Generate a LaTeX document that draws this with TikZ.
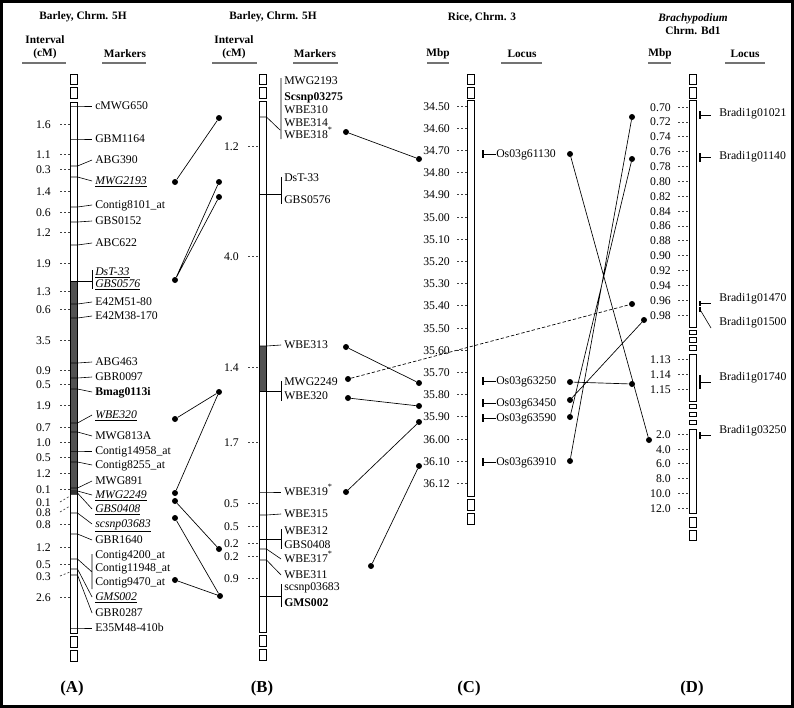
\documentclass[tikz,border=0pt]{standalone}
\usepackage{fontspec}
\setmainfont{Liberation Serif}
\usetikzlibrary{positioning}

\newcommand{\um}[1]{\underline{\textit{#1}}}
\newcommand{\supst}{\textsuperscript{*}}
% end boxes + main body of a chromosome: x, top, bottom
\newcommand{\chrom}[3]{%
  \draw[chr] (#1,74.5) rectangle ++(7,10);
  \draw[chr] (#1,87.5) rectangle ++(7,10.5);
  \draw[chr] (#1,#2) rectangle (#1+7,#3);
  \draw[chr] (#1,#3+3.5) rectangle ++(7,10.5);
  \draw[chr] (#1,#3+17.5) rectangle ++(7,10.5);}

\tikzset{
  chr/.style={draw, fill=white, line width=0.6pt},
  lead/.style={line width=0.45pt},
  tickd/.style={line width=0.5pt, dash pattern=on 1.5pt off 1.5pt, black!75},
  mk/.style={anchor=west, inner sep=0pt, font=\fontsize{8.8}{10}\selectfont, text height=6pt, text depth=1.5pt},
  iv/.style={anchor=east, inner sep=0pt, font=\fontsize{8.8}{10}\selectfont, text height=6pt, text depth=0pt},
  hd/.style={inner sep=0pt, font=\fontsize{8.5}{9.75}\bfseries\selectfont, align=center},
  uline/.style={line width=0.8pt, black!55},
  dot/.style={circle, fill, inner sep=0pt, minimum size=4.5pt},
  link/.style={line width=0.5pt},
  panel/.style={inner sep=0pt, font=\fontsize{12.5}{14}\bfseries\selectfont},
}

\begin{document}
\begin{tikzpicture}[x=0.75pt,y=-0.75pt]
\useasboundingbox (0,0) rectangle (794,708);
\draw[line width=2.4pt] (1.6,1.6) rectangle (792.4,706.4);

%% headings
\node[hd] (tA) at (83,17) {Barley, Chrm. 5H};
\node[hd] (tB) at (273,17) {Barley, Chrm. 5H};
\node[hd] (tC) at (482,17) {Rice, Chrm. 3};
\node[hd] (tD) at (693,24) {\textit{Brachypodium}\\Chrm. Bd1};
\node[hd] (hA1) at (45,47) {Interval\\(cM)};
\node[hd] (hA2) at (125,54) {Markers};
\node[hd] (hB1) at (234,47) {Interval\\(cM)};
\node[hd] (hB2) at (315,54) {Markers};
\node[hd] (hC1) at (438,54) {Mbp};
\node[hd] (hC2) at (522,54) {Locus};
\node[hd] (hD1) at (660,54) {Mbp};
\node[hd] (hD2) at (745,54) {Locus};
\foreach \a/\b in {22/66,102/146,212/257,293/338,427/449,501/542,648/671,725/765}
  \draw[uline] (\a,63) -- (\b,63);

%% (A) barley 5H
\chrom{70.5}{102}{633}
\fill[black!68] (70.5,281) rectangle (77.5,495);
\draw[line width=0.6pt] (70.5,102) rectangle (77.5,633);
\foreach \v/\y/\e [count=\i] in {1.6/124/124,1.1/154/154,0.3/169/169,1.4/191/191,0.6/212/212,
    1.2/232/232,1.9/263/263,1.3/291/291,0.6/309/309,3.5/340/340,0.9/370/370,0.5/384/384,
    1.9/405/405,0.7/427/427,1.0/442/442,0.5/457/457,1.2/473/473,0.1/489/489,0.1/502/496,
    0.8/512/506,0.8/524/524,1.2/547/547,0.5/564/564,0.3/576/572,2.6/597/597}{
  \node[iv] (iA\i) at (51,\y) {\v};
  \draw[tickd] (60,\y) -- (70,\e);
}
\foreach \t/\ly/\by [count=\i] in {cMWG650/106/106,GBM1164/139/139,ABG390/160/166,
    {\um{MWG2193}}/181/177,Contig8101\_at/205/207,GBS0152/221/222,ABC622/243/245,
    E42M51-80/302/304,E42M38-170/316/318,ABG463/362/363,GBR0097/377/378,
    {\textbf{Bmag0113i}}/392/389,{\um{WBE320}}/415/423,MWG813A/436/432,
    Contig14958\_at/451/451,Contig8255\_at/465/462,MWG891/481/488,{\um{MWG2249}}/495/491,
    {\um{GBS0408}}/509/493,{\um{scsnp03683}}/524/513,GBR1640/540/534,
    {\um{GMS002}}/597/569,GBR0287/613/575,E35M48-410b/628/628}{
  \node[mk] (mA\i) at (95,\ly) {\t};
  \draw[lead] (70.5,\by) -- (77.5,\by) -- ([xshift=-2.2pt]mA\i.west);
}
\node[mk] (mA25) at (95,272) {\um{DsT-33}};
\node[mk] (mA26) at (95,284) {\um{GBS0576}};
\draw[lead] (92,270) -- (92,289) (70.5,281) -- (92,281);
\node[mk] (mA27) at (95,555) {Contig4200\_at};
\node[mk] (mA28) at (95,568) {Contig11948\_at};
\node[mk] (mA29) at (95,582) {Contig9470\_at};
\draw[lead] (92,554) -- (92,589) (70.5,559) -- (77.5,559) -- (92,572);

%% (B) barley 5H
\chrom{259.5}{101}{632}
\fill[black!68] (259.5,346) rectangle (266.5,391);
\draw[line width=0.6pt] (259.5,101) rectangle (266.5,632);
\foreach \v/\y [count=\i] in {1.2/146,4.0/256,1.4/367,1.7/442,0.5/503,0.5/526,0.2/543,0.2/556,0.9/578}{
  \node[iv] (iB\i) at (239,\y) {\v};
  \draw[tickd] (248,\y) -- (259,\y);
}
\foreach \t/\ly/\by [count=\i] in {WBE313/345/346,WBE319\supst/492/492,WBE315/514/515,
    WBE317\supst/559/549,WBE311/575/560}{
  \node[mk] (mB\i) at (284,\ly) {\t};
  \draw[lead] (259.5,\by) -- (266.5,\by) -- ([xshift=-2.2pt]mB\i.west);
}
\foreach \t/\ly [count=\i from 6] in {MWG2193/81,{\textbf{Scsnp03275}}/97,WBE310/110,WBE314/123,
    WBE318\supst/135,DsT-33/178,GBS0576/200,MWG2249/382,WBE320/396,WBE312/531,GBS0408/545,
    scsnp03683/587,{\textbf{GMS002}}/603}
  \node[mk] (mB\i) at (284,\ly) {\t};
\draw[lead] (281,78) -- (281,139) (259.5,117) -- (266.5,117) -- (280,130);
\draw[lead] (281,177) -- (281,204) (259.5,194) -- (281,194);
\draw[lead] (281,381) -- (281,401) (259.5,391) -- (281,391);
\draw[lead] (281,529) -- (281,549) (259.5,539) -- (281,539);
\draw[lead] (281,584) -- (281,607) (259.5,596) -- (281,596);

%% (C) rice 3
\chrom{467.5}{100}{496}
\foreach \v [count=\k from 0] in {34.50,34.60,34.70,34.80,34.90,35.00,35.10,35.20,35.30,
    35.40,35.50,35.60,35.70,35.80,35.90,36.00,36.10,36.12}{
  \node[iv] (iC\k) at (450,106+\k*22.2) {\v};
  \draw[tickd] (457,106+\k*22.2) -- (467.5,106+\k*22.2);
}
\foreach \t/\y [count=\i] in {Os03g61130/154,Os03g63250/381,Os03g63450/403,Os03g63590/418,Os03g63910/462}{
  \node[mk] (lC\i) at (496,\y) {\t};
  \draw[line width=1.5pt] (483,\y-4) -- (483,\y+4);
  \draw[lead] (483,\y) -- (lC\i.west);
}

%% (D) Brachypodium Bd1
\draw[chr] (689.5,74.5) rectangle ++(7,10);
\draw[chr] (689.5,87.5) rectangle ++(7,10.5);
\draw[chr] (689.5,100) rectangle (696.5,327);
\foreach \y in {330,337.5,345.5,404,412,420}
  \draw[chr] (689.5,\y) rectangle ++(7,4.5);
\draw[chr] (689.5,354) rectangle (696.5,401);
\draw[chr] (689.5,429) rectangle (696.5,513);
\draw[chr] (689.5,517) rectangle ++(7,10.5);
\draw[chr] (689.5,530) rectangle ++(7,10.5);
\foreach \v [count=\k from 0] in {0.70,0.72,0.74,0.76,0.78,0.80,0.82,0.84,0.86,0.88,0.90,0.92,0.94,0.96,0.98}{
  \node[iv] (iD\k) at (671,107+\k*14.86) {\v};
  \draw[tickd] (678,107+\k*14.86) -- (689.5,107+\k*14.86);
}
\foreach \v/\y [count=\i from 15] in {1.13/359,1.14/374,1.15/389,2.0/434,4.0/449,6.0/463,8.0/478,10.0/493,12.0/508}{
  \node[iv] (iD\i) at (671,\y) {\v};
  \draw[tickd] (678,\y) -- (689.5,\y);
}
\foreach \t/\ly/\a/\b/\w [count=\i] in {Bradi1g01021/113/111/119/1.5,Bradi1g01140/156/153/162/1.5,
    Bradi1g01470/298/301/306/1.1,Bradi1g01740/377/375/389/1.5,Bradi1g03250/430/432/439/1.5}{
  \node[mk] (lD\i) at (719,\ly) {\t};
  \draw[line width=\w pt] (700,\a) -- (700,\b);
  \draw[lead] (700,{(\a+\b)/2}) -- (711,{(\a+\b)/2});
}
\node[mk] (lD6) at (719,322) {Bradi1g01500};
\draw[line width=1.1pt] (700,307) -- (700,312);
\draw[lead] (700,309.5) -- (711,328);

%% comparative links
\node[dot] (a1) at (175,182) {};
\node[dot] (a2) at (175,280) {};
\node[dot] (a3) at (175,419) {};
\node[dot] (a4) at (175,493) {};
\node[dot] (a5) at (175,501) {};
\node[dot] (a6) at (175,518) {};
\node[dot] (a7) at (175,580) {};
\node[dot] (b1) at (219,118) {};
\node[dot] (b2) at (219,182) {};
\node[dot] (b3) at (219,197) {};
\node[dot] (b4) at (219,392) {};
\node[dot] (b5) at (219,549) {};
\node[dot] (b6) at (220,596) {};
\draw[link] (a1) -- (b1) (a2) -- (b2) (a2) -- (b3) (a3) -- (b4) (a4) -- (b4)
  (a5) -- (b5) (a6) -- (b6) (a7) -- (b6);

\node[dot] (c1) at (346,132) {};
\node[dot] (c2) at (346,347) {};
\node[dot] (c3) at (348,379) {};
\node[dot] (c4) at (348,398) {};
\node[dot] (c5) at (346,492) {};
\node[dot] (c6) at (371,566) {};
\node[dot] (d1) at (419,159) {};
\node[dot] (d2) at (419,383) {};
\node[dot] (d3) at (419,406) {};
\node[dot] (d4) at (419,422) {};
\node[dot] (d5) at (419,466) {};
\draw[link] (c1) -- (d1) (c2) -- (d2) (c4) -- (d3) (c5) -- (d4) (c6) -- (d5);

\node[dot] (e1) at (570,154) {};
\node[dot] (e2) at (570,382) {};
\node[dot] (e3) at (570,400) {};
\node[dot] (e4) at (570,417) {};
\node[dot] (e5) at (570,461) {};
\node[dot] (f1) at (632,117) {};
\node[dot] (f2) at (632,159) {};
\node[dot] (f3) at (632,304) {};
\node[dot] (f4) at (644,320) {};
\node[dot] (f5) at (632,384) {};
\node[dot] (f6) at (649,440) {};
\draw[link] (e1) -- (f6) (e2) -- (f5) (e3) -- (f4) (e4) -- (f2) (e5) -- (f1);
\draw[link, dash pattern=on 2.5pt off 1.5pt] (c3) -- (f3);

%% panel letters
\node[panel] (pA) at (72,688) {(A)};
\node[panel] (pB) at (262,688) {(B)};
\node[panel] (pC) at (469,688) {(C)};
\node[panel] (pD) at (692,688) {(D)};
\end{tikzpicture}
\end{document}
